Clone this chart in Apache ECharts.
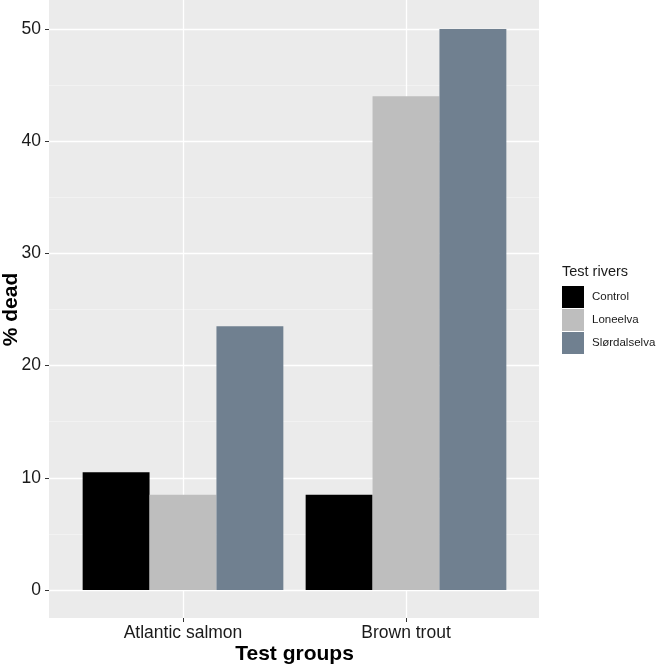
<!DOCTYPE html>
<html>
<head>
<meta charset="utf-8">
<script src="https://cdn.jsdelivr.net/npm/echarts@6/dist/echarts.min.js"></script>
<style>
  html, body { margin: 0; padding: 0; background: #fff; }
  #chart { width: 657px; height: 666px; }
</style>
</head>
<body>
<div id="chart"></div>
<script>
const groups = ['Atlantic salmon', 'Brown trout'];
const rivers = ['Control', 'Loneelva', 'Slørdalselva'];
const control = [10.5, 8.5];
const loneelva = [8.5, 44];
const slordalselva = [23.5, 50];
const colors = ['#000000', '#bebebe', '#708090'];

const font = 'Liberation Sans, Arial, sans-serif';
const chart = echarts.init(document.getElementById('chart'));

const values = [control, loneelva, slordalselva];

const option = {
  animation: false,
  textStyle: { fontFamily: font },
  title: {
    text: 'Test rivers',
    left: 562,
    top: 264,
    padding: 0,
    textStyle: { fontSize: 14.5, fontWeight: 'normal', color: '#1a1a1a', fontFamily: font },
  },
  legend: {
    orient: 'vertical',
    left: 562,
    top: 286,
    padding: 0,
    itemWidth: 22,
    itemHeight: 22,
    itemGap: 1,
    icon: 'rect',
    data: rivers,
    textStyle: { fontSize: 11.5, color: '#1a1a1a', fontFamily: font, padding: [0, 0, 0, 3] },
  },
  grid: [
    // panel background
    { left: 49, top: 0, width: 490, height: 618, show: true, backgroundColor: '#ebebeb', borderWidth: 0, outerBoundsMode: 'none' },
    // y scale grid
    { left: 49, top: 29, width: 490, height: 561, outerBoundsMode: 'none' },
    // bars grid
    { left: 71.5, top: 29, width: 446, height: 561, outerBoundsMode: 'none' },
    // x labels / vertical grid lines
    { left: 183, top: 0, width: 223, height: 618, outerBoundsMode: 'none' },
  ],
  xAxis: [
    { gridIndex: 0, type: 'value', show: false, min: 0, max: 1 },
    { gridIndex: 1, type: 'value', show: false, min: 0, max: 1 },
    { gridIndex: 2, type: 'category', data: groups, show: false },
    {
      gridIndex: 3,
      type: 'category',
      data: groups,
      boundaryGap: false,
      axisLine: { show: false },
      axisTick: { show: true, length: 4, lineStyle: { color: '#333', width: 1 } },
      axisLabel: { margin: 6, fontSize: 17.5, color: '#1a1a1a', fontFamily: font },
      splitLine: { show: true, lineStyle: { color: '#ffffff', width: 1.3 } },
      name: 'Test groups',
      nameLocation: 'middle',
      nameGap: 26,
      nameMoveOverlap: false,
      nameTextStyle: { fontSize: 21, fontWeight: 'bold', color: '#000', fontFamily: font },
    },
  ],
  yAxis: [
    { gridIndex: 0, type: 'value', show: false, min: 0, max: 1 },
    {
      gridIndex: 1,
      type: 'value',
      min: 0,
      max: 50,
      interval: 10,
      axisLine: { show: false },
      axisTick: { show: true, length: 4, lineStyle: { color: '#333', width: 1 } },
      axisLabel: { margin: 8, fontSize: 17.5, color: '#1a1a1a', fontFamily: font },
      splitLine: { show: true, lineStyle: { color: '#ffffff', width: 1.3 } },
      minorTick: { show: false, splitNumber: 2 },
      minorSplitLine: { show: true, lineStyle: { color: '#f5f5f5', width: 0.7 } },
      name: '% dead',
      nameLocation: 'middle',
      nameGap: 27,
      nameMoveOverlap: false,
      nameTextStyle: { fontSize: 21, fontWeight: 'bold', color: '#000', fontFamily: font },
    },
    { gridIndex: 2, type: 'value', show: false, min: 0, max: 50 },
    { gridIndex: 3, type: 'value', show: false, min: 0, max: 1 },
  ],
  series: rivers.map((name, i) => ({
    name: name,
    type: 'bar',
    xAxisIndex: 2,
    yAxisIndex: 2,
    barGap: '0%',
    barCategoryGap: '10%',
    itemStyle: { color: colors[i] },
    data: values[i],
  })),
};

chart.setOption(option);
</script>
</body>
</html>
